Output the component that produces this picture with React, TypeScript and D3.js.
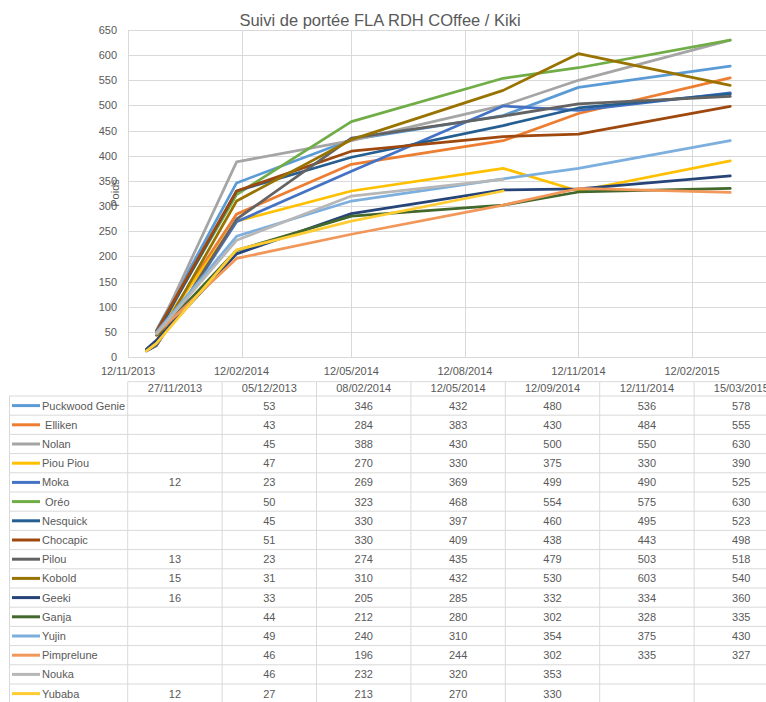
import React from "react";
import * as d3 from "d3";

const title = "Suivi de portée FLA RDH COffee / Kiki";
const yAxisLabel = "Poids";
const dateLabels = ["27/11/2013", "05/12/2013", "08/02/2014", "12/05/2014", "12/09/2014", "12/11/2014", "15/03/2015"];
const tickDates = ["12/11/2013", "12/02/2014", "12/05/2014", "12/08/2014", "12/11/2014", "12/02/2015"];
const yTicks = [0, 50, 100, 150, 200, 250, 300, 350, 400, 450, 500, 550, 600, 650];

const names = ["Puckwood Genie", " Elliken", "Nolan", "Piou Piou", "Moka", " Oréo", "Nesquick", "Chocapic", "Pilou", "Kobold", "Geeki", "Ganja", "Yujin", "Pimprelune", "Nouka", "Yubaba"];
const colors = ["#5B9BD5", "#ED7D31", "#A5A5A5", "#FFC000", "#4472C4", "#70AD47", "#255E91", "#9E480E", "#636363", "#997300", "#264478", "#43682B", "#7CAFDD", "#F1975A", "#B7B7B7", "#FFCD33"];

const puckwood = [null, 53, 346, 432, 480, 536, 578];
const elliken = [null, 43, 284, 383, 430, 484, 555];
const nolan = [null, 45, 388, 430, 500, 550, 630];
const piouPiou = [null, 47, 270, 330, 375, 330, 390];
const moka = [12, 23, 269, 369, 499, 490, 525];
const oreo = [null, 50, 323, 468, 554, 575, 630];
const nesquick = [null, 45, 330, 397, 460, 495, 523];
const chocapic = [null, 51, 330, 409, 438, 443, 498];
const pilou = [13, 23, 274, 435, 479, 503, 518];
const kobold = [15, 31, 310, 432, 530, 603, 540];
const geeki = [16, 33, 205, 285, 332, 334, 360];
const ganja = [null, 44, 212, 280, 302, 328, 335];
const yujin = [null, 49, 240, 310, 354, 375, 430];
const pimprelune = [null, 46, 196, 244, 302, 335, 327];
const nouka = [null, 46, 232, 320, 353, null, null];
const yubaba = [12, 27, 213, 270, 330, null, null];

const seriesValues: (number | null)[][] = [puckwood, elliken, nolan, piouPiou, moka, oreo, nesquick, chocapic, pilou, kobold, geeki, ganja, yujin, pimprelune, nouka, yubaba];

const W = 766;
const H = 702;
const FONT = "'Liberation Sans', Arial, sans-serif";
const TXT = "#595959";
const GRID = "#D9D9D9";

export default function App() {
  const parse = d3.timeParse("%d/%m/%Y");
  const dates = dateLabels.map((s) => parse(s) as Date);
  const ticks = tickDates.map((s) => parse(s) as Date);

  const x = d3.scaleTime().domain([ticks[0], ticks[ticks.length - 1]]).range([128, 692]);
  const y = d3.scaleLinear().domain([0, 650]).range([357, 30]);
  const plotRight = W;

  const line = d3
    .line<{ d: Date; v: number | null }>()
    .defined((p) => p.v != null)
    .x((p) => x(p.d))
    .y((p) => y(p.v as number));

  // table geometry
  const colX0 = 127.7;
  const colW = 94.4;
  const headTop = 381.7;
  const rowTop = 396;
  const rowH = 19.2;
  const nCols = dateLabels.length;
  const colEdges = d3.range(nCols + 1).map((i) => colX0 + i * colW);

  return (
    <svg width={W} height={H} style={{ position: "absolute", left: 0, top: 0, background: "#fff" }} fontFamily={FONT}>
      <rect x={0} y={0} width={W} height={H} fill="#fff" />
      <text x={380} y={26} textAnchor="middle" fontSize={16.5} fill={TXT}>{title}</text>

      {/* horizontal gridlines */}
      {yTicks.map((t) => (
        <line key={"h" + t} x1={x(ticks[0])} x2={plotRight} y1={Math.round(y(t)) + 0.5} y2={Math.round(y(t)) + 0.5} stroke={GRID} strokeWidth={1} />
      ))}
      {/* vertical gridlines */}
      {ticks.map((t, i) => (
        <line key={"v" + i} x1={Math.round(x(t)) + 0.5} x2={Math.round(x(t)) + 0.5} y1={y(650)} y2={y(0)} stroke={GRID} strokeWidth={1} />
      ))}
      {/* y tick labels */}
      {yTicks.map((t) => (
        <text key={"yl" + t} x={117} y={y(t) + 4} textAnchor="end" fontSize={11} fill={TXT}>{t}</text>
      ))}
      {/* x tick labels */}
      {ticks.map((t, i) => (
        <text key={"xl" + i} x={x(t)} y={375} textAnchor="middle" fontSize={11} fill={TXT}>{tickDates[i]}</text>
      ))}
      <text transform={`translate(119,193) rotate(-90)`} textAnchor="middle" fontSize={11} fill={TXT}>{yAxisLabel}</text>

      {/* series lines */}
      {seriesValues.map((vals, si) => (
        <path
          key={"s" + si}
          d={line(vals.map((v, i) => ({ d: dates[i], v }))) || ""}
          fill="none"
          stroke={colors[si]}
          strokeWidth={2.75}
          strokeLinejoin="round"
          strokeLinecap="round"
        />
      ))}

      {/* data table */}
      <line x1={colX0} x2={W} y1={headTop} y2={headTop} stroke={GRID} />
      {d3.range(names.length + 1).map((r) => (
        <line key={"tr" + r} x1={9} x2={W} y1={rowTop + r * rowH} y2={rowTop + r * rowH} stroke={GRID} />
      ))}
      <line x1={9.5} x2={9.5} y1={rowTop} y2={H} stroke={GRID} />
      {colEdges.map((cx, i) => (
        <line key={"tc" + i} x1={cx} x2={cx} y1={headTop} y2={H} stroke={GRID} />
      ))}
      {dateLabels.map((lbl, i) => (
        <text key={"hd" + i} x={colX0 + colW * (i + 0.5)} y={392} textAnchor="middle" fontSize={11} fill={TXT}>{lbl}</text>
      ))}
      {names.map((nm, r) => {
        const cy = rowTop + r * rowH + rowH / 2;
        return (
          <g key={"row" + r}>
            <line x1={12} x2={40} y1={cy} y2={cy} stroke={colors[r]} strokeWidth={3} />
            <text x={42} y={cy + 4} fontSize={11} fill={TXT} style={{ whiteSpace: "pre" }}>{nm}</text>
            {seriesValues[r].map((v, c) =>
              v == null ? null : (
                <text key={"c" + c} x={colX0 + colW * (c + 0.5)} y={cy + 4} textAnchor="middle" fontSize={11} fill={TXT}>{v}</text>
              )
            )}
          </g>
        );
      })}
    </svg>
  );
}
